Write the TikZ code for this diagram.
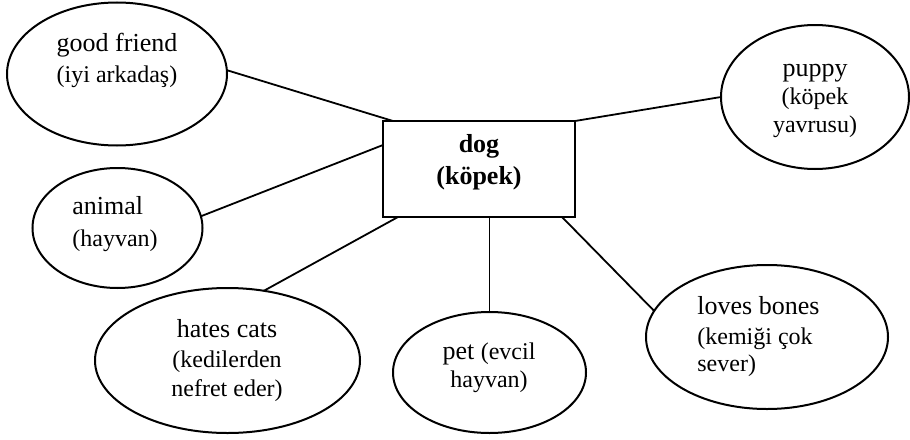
\documentclass[tikz,border=0pt]{standalone}
\usepackage{fontspec}
\setmainfont{Liberation Serif}
\usetikzlibrary{shapes.geometric,calc}

% English words are set a little larger than their Turkish glosses
\newcommand\enfont{\fontsize{13}{15}\selectfont}
\newcommand\trfont{\fontsize{12}{14}\selectfont}

\tikzset{
  bubble/.style={draw, ellipse, line width=1pt, inner sep=0pt, outer sep=0pt},
  centrebox/.style={draw, rectangle, line width=1pt, inner sep=0pt, outer sep=0pt},
  word/.style={inner sep=0pt, anchor=mid},
  lword/.style={inner sep=0pt, anchor=mid west},
  link/.style={line width=0.9pt}
}

\begin{document}
\begin{tikzpicture}[x=0.5pt, y=-0.5pt]
\path[use as bounding box] (0,0) rectangle (910,439);

% central box
\node[centrebox, minimum width=96pt, minimum height=48pt] (dog) at (479,169) {};
\node[word, font=\enfont\bfseries] (dog1) at (479,148) {dog};
\node[word, font=\enfont\bfseries] (dog2) at (479,180) {(köpek)};

% surrounding ideas
\node[bubble, minimum width=110pt, minimum height=71.5pt] (gf) at (117,74) {};
\node[word, font=\enfont] (gf1) at (117,47) {good friend};
\node[word, font=\trfont] (gf2) at (117,78) {(iyi arkadaş)};

\node[bubble, minimum width=94pt, minimum height=72pt] (pup) at (815,97) {};
\node[word, font=\enfont] (pup1) at (815,72) {puppy};
\node[word, font=\trfont] (pup2) at (815,100) {(köpek};
\node[word, font=\trfont] (pup3) at (815,128) {yavrusu)};

\node[bubble, minimum width=85pt, minimum height=60pt] (ani) at (117.5,228) {};
\node[lword, font=\enfont] (ani1) at (72,210) {animal};
\node[lword, font=\trfont] (ani2) at (72,242) {(hayvan)};

\node[bubble, minimum width=132.5pt, minimum height=72.5pt] (hat) at (227.5,360.5) {};
\node[word, font=\enfont] (hat1) at (227,333) {hates cats};
\node[word, font=\trfont] (hat2) at (227,363) {(kedilerden};
\node[word, font=\trfont] (hat3) at (227,392) {nefret eder)};

\node[bubble, minimum width=96.5pt, minimum height=60.5pt] (pet) at (489.5,372.5) {};
\node[word] (pet1) at (489,355) {\enfont pet \trfont(evcil};
\node[word, font=\trfont] (pet2) at (489,383) {hayvan)};

\node[bubble, minimum width=121pt, minimum height=72pt] (lov) at (767,337) {};
\node[lword, font=\enfont] (lov1) at (697,310) {loves bones};
\node[lword, font=\trfont] (lov2) at (697,340) {(kemiği çok};
\node[lword, font=\trfont] (lov3) at (697,367) {sever)};

% where the connectors meet the box
\coordinate (dgf)  at ($(dog.north west)+(10,0)$);
\coordinate (dani) at ($(dog.north west)!0.25!(dog.south west)$);
\coordinate (dhat) at ($(dog.south west)+(15,0)$);
\coordinate (dlov) at ($(dog.south east)+(-13,0)$);

% connectors
\draw[link] (gf.2) -- (dgf);
\draw[link] (pup.west) -- (dog.north east);
\draw[link] (ani.8) -- (dani);
\draw[link] ($(hat.north)+(36,3)$) -- (dhat);
\draw[link] (pet.north) -- (pet.north |- dog.south);
\draw[link] (lov.167) -- (dlov);
\end{tikzpicture}
\end{document}
